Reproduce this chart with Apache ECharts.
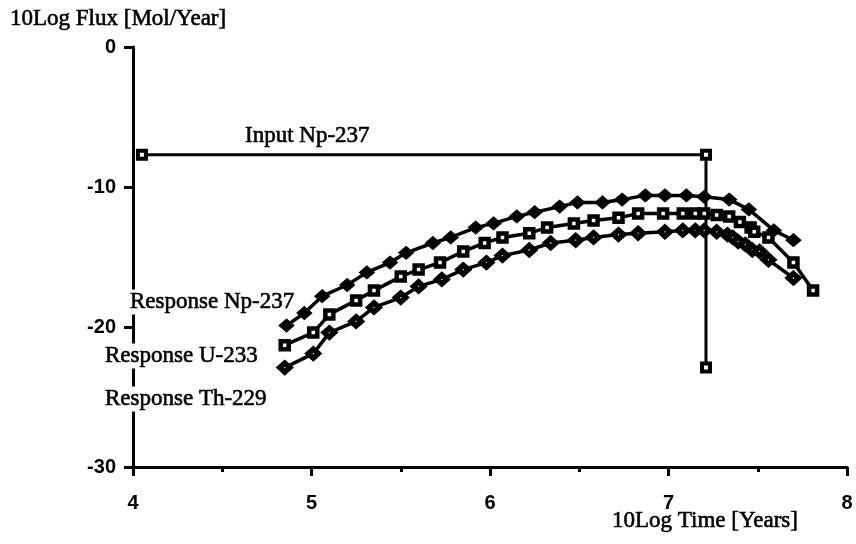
<!DOCTYPE html>
<html>
<head>
<meta charset="utf-8">
<script src="https://cdn.jsdelivr.net/npm/echarts@6/dist/echarts.min.js"></script>
<style>html,body{margin:0;padding:0;background:#fff;}#c{width:856px;height:544px;}</style>
</head>
<body>
<div id="c"></div>
<script>
// Input Np-237 pulse
const inputX = [4.05, 7.21, 7.21];
const inputY = [-7.7, -7.7, -22.9];
// Response Np-237 (filled diamonds)
const npX = [4.86,4.96,5.06,5.20,5.31,5.44,5.53,5.68,5.78,5.92,6.02,6.15,6.25,6.39,6.49,6.63,6.74,6.87,6.98,7.10,7.20,7.34,7.45,7.59,7.70];
const npY = [-19.9,-19.0,-17.8,-17.0,-16.1,-15.4,-14.7,-14.0,-13.6,-12.9,-12.6,-12.1,-11.8,-11.4,-11.1,-11.1,-10.9,-10.6,-10.6,-10.6,-10.7,-10.9,-11.6,-13.1,-13.8];
// Response U-233 (open squares)
const uX = [4.85,5.01,5.10,5.25,5.35,5.50,5.60,5.72,5.85,5.97,6.07,6.22,6.32,6.47,6.58,6.72,6.83,6.97,7.08,7.15,7.20,7.27,7.34,7.40,7.46,7.48,7.56,7.70,7.81];
const uY = [-21.3,-20.4,-19.1,-18.1,-17.4,-16.4,-15.9,-15.4,-14.6,-14.0,-13.6,-13.3,-12.9,-12.6,-12.4,-12.2,-11.9,-11.9,-11.9,-11.9,-11.9,-12.0,-12.1,-12.5,-12.9,-13.2,-13.6,-15.4,-17.4];
// Response Th-229 (dotted diamonds)
const thX = [4.85,5.01,5.10,5.25,5.35,5.50,5.60,5.73,5.85,5.98,6.07,6.22,6.34,6.48,6.58,6.72,6.83,6.98,7.08,7.15,7.20,7.27,7.33,7.36,7.39,7.43,7.47,7.51,7.56,7.70];
const thY = [-22.9,-21.9,-20.4,-19.6,-18.6,-17.9,-17.1,-16.6,-15.9,-15.4,-14.9,-14.5,-14.0,-13.8,-13.6,-13.4,-13.3,-13.2,-13.1,-13.1,-13.1,-13.2,-13.4,-13.6,-13.9,-14.1,-14.5,-14.6,-15.2,-16.5];
// Axis ranges / ticks
const xMin = 4, xMax = 8, xStep = 1;
const yMin = -30, yMax = 0, yStep = 10;
// Texts
const yTitle = '10Log Flux [Mol/Year]';
const xTitle = '10Log Time [Years]';
const inputLabel = 'Input Np-237';
const respLabels = ['Response Np-237', 'Response U-233', 'Response Th-229'];

const zip = (a, b) => a.map((v, i) => [v, b[i]]);
const serifFont = '23px "Liberation Serif", "Times New Roman", serif';
const textStyle = (t, bg) => Object.assign({
  text: t, font: serifFont, fill: '#000', stroke: '#000', lineWidth: 0.6, verticalAlign: 'middle'
}, bg ? {backgroundColor: '#fff', padding: [1, 0]} : {});

const chart = echarts.init(document.getElementById('c'), null, {renderer: 'canvas'});
const axisCommon = {
  axisLine: {show: true, onZero: false, lineStyle: {color: '#000', width: 3}},
  axisTick: {show: true, inside: false, length: 9, lineStyle: {color: '#000', width: 3}},
  splitLine: {show: false},
  axisLabel: {color: '#000', fontFamily: '"Liberation Sans", Arial, sans-serif', fontSize: 20, fontWeight: 'bold'}
};
chart.setOption({
  animation: false,
  backgroundColor: '#fff',
  grid: {left: 133, right: 9, top: 47, bottom: 77, containLabel: false},
  xAxis: Object.assign({}, axisCommon, {
    type: 'value', min: xMin, max: xMax, interval: xStep,
    minorTick: {show: true, splitNumber: 2, length: 5, lineStyle: {color: '#000', width: 3}},
    axisLabel: Object.assign({}, axisCommon.axisLabel, {margin: 26})
  }),
  yAxis: Object.assign({}, axisCommon, {
    type: 'value', min: yMin, max: yMax, interval: yStep,
    axisLabel: Object.assign({}, axisCommon.axisLabel, {margin: 17})
  }),
  series: [
    {
      name: inputLabel, type: 'line', data: zip(inputX, inputY),
      lineStyle: {color: '#000', width: 3}, showAllSymbol: true,
      symbol: 'rect', symbolSize: 8,
      itemStyle: {color: '#fff', borderColor: '#000', borderWidth: 4}, z: 3
    },
    {
      name: respLabels[0], type: 'line', data: zip(npX, npY),
      lineStyle: {color: '#000', width: 3.5}, showAllSymbol: true,
      symbol: 'diamond', symbolSize: [15, 13],
      itemStyle: {color: '#000', borderColor: '#000', borderWidth: 1}
    },
    {
      name: respLabels[1], type: 'line', data: zip(uX, uY),
      lineStyle: {color: '#000', width: 3.5}, showAllSymbol: true,
      symbol: 'rect', symbolSize: 8,
      itemStyle: {color: '#fff', borderColor: '#000', borderWidth: 4.5}
    },
    {
      name: respLabels[2], type: 'line', data: zip(thX, thY),
      lineStyle: {color: '#000', width: 3.5}, showAllSymbol: true,
      symbol: 'diamond', symbolSize: [10, 9],
      itemStyle: {color: '#fff', borderColor: '#000', borderWidth: 5.5}
    }
  ],
  graphic: [
    {type: 'text', x: 10, y: 19, z: 100, style: textStyle(yTitle, false)},
    {type: 'text', x: 612, y: 521, z: 100, style: textStyle(xTitle, false)},
    {type: 'text', x: 245, y: 136, z: 100, style: textStyle(inputLabel, false)},
    {type: 'text', x: 130, y: 302, z: 100, style: textStyle(respLabels[0], true)},
    {type: 'text', x: 105, y: 356, z: 100, style: textStyle(respLabels[1], true)},
    {type: 'text', x: 105, y: 399, z: 100, style: textStyle(respLabels[2], true)}
  ]
});
</script>
</body>
</html>
